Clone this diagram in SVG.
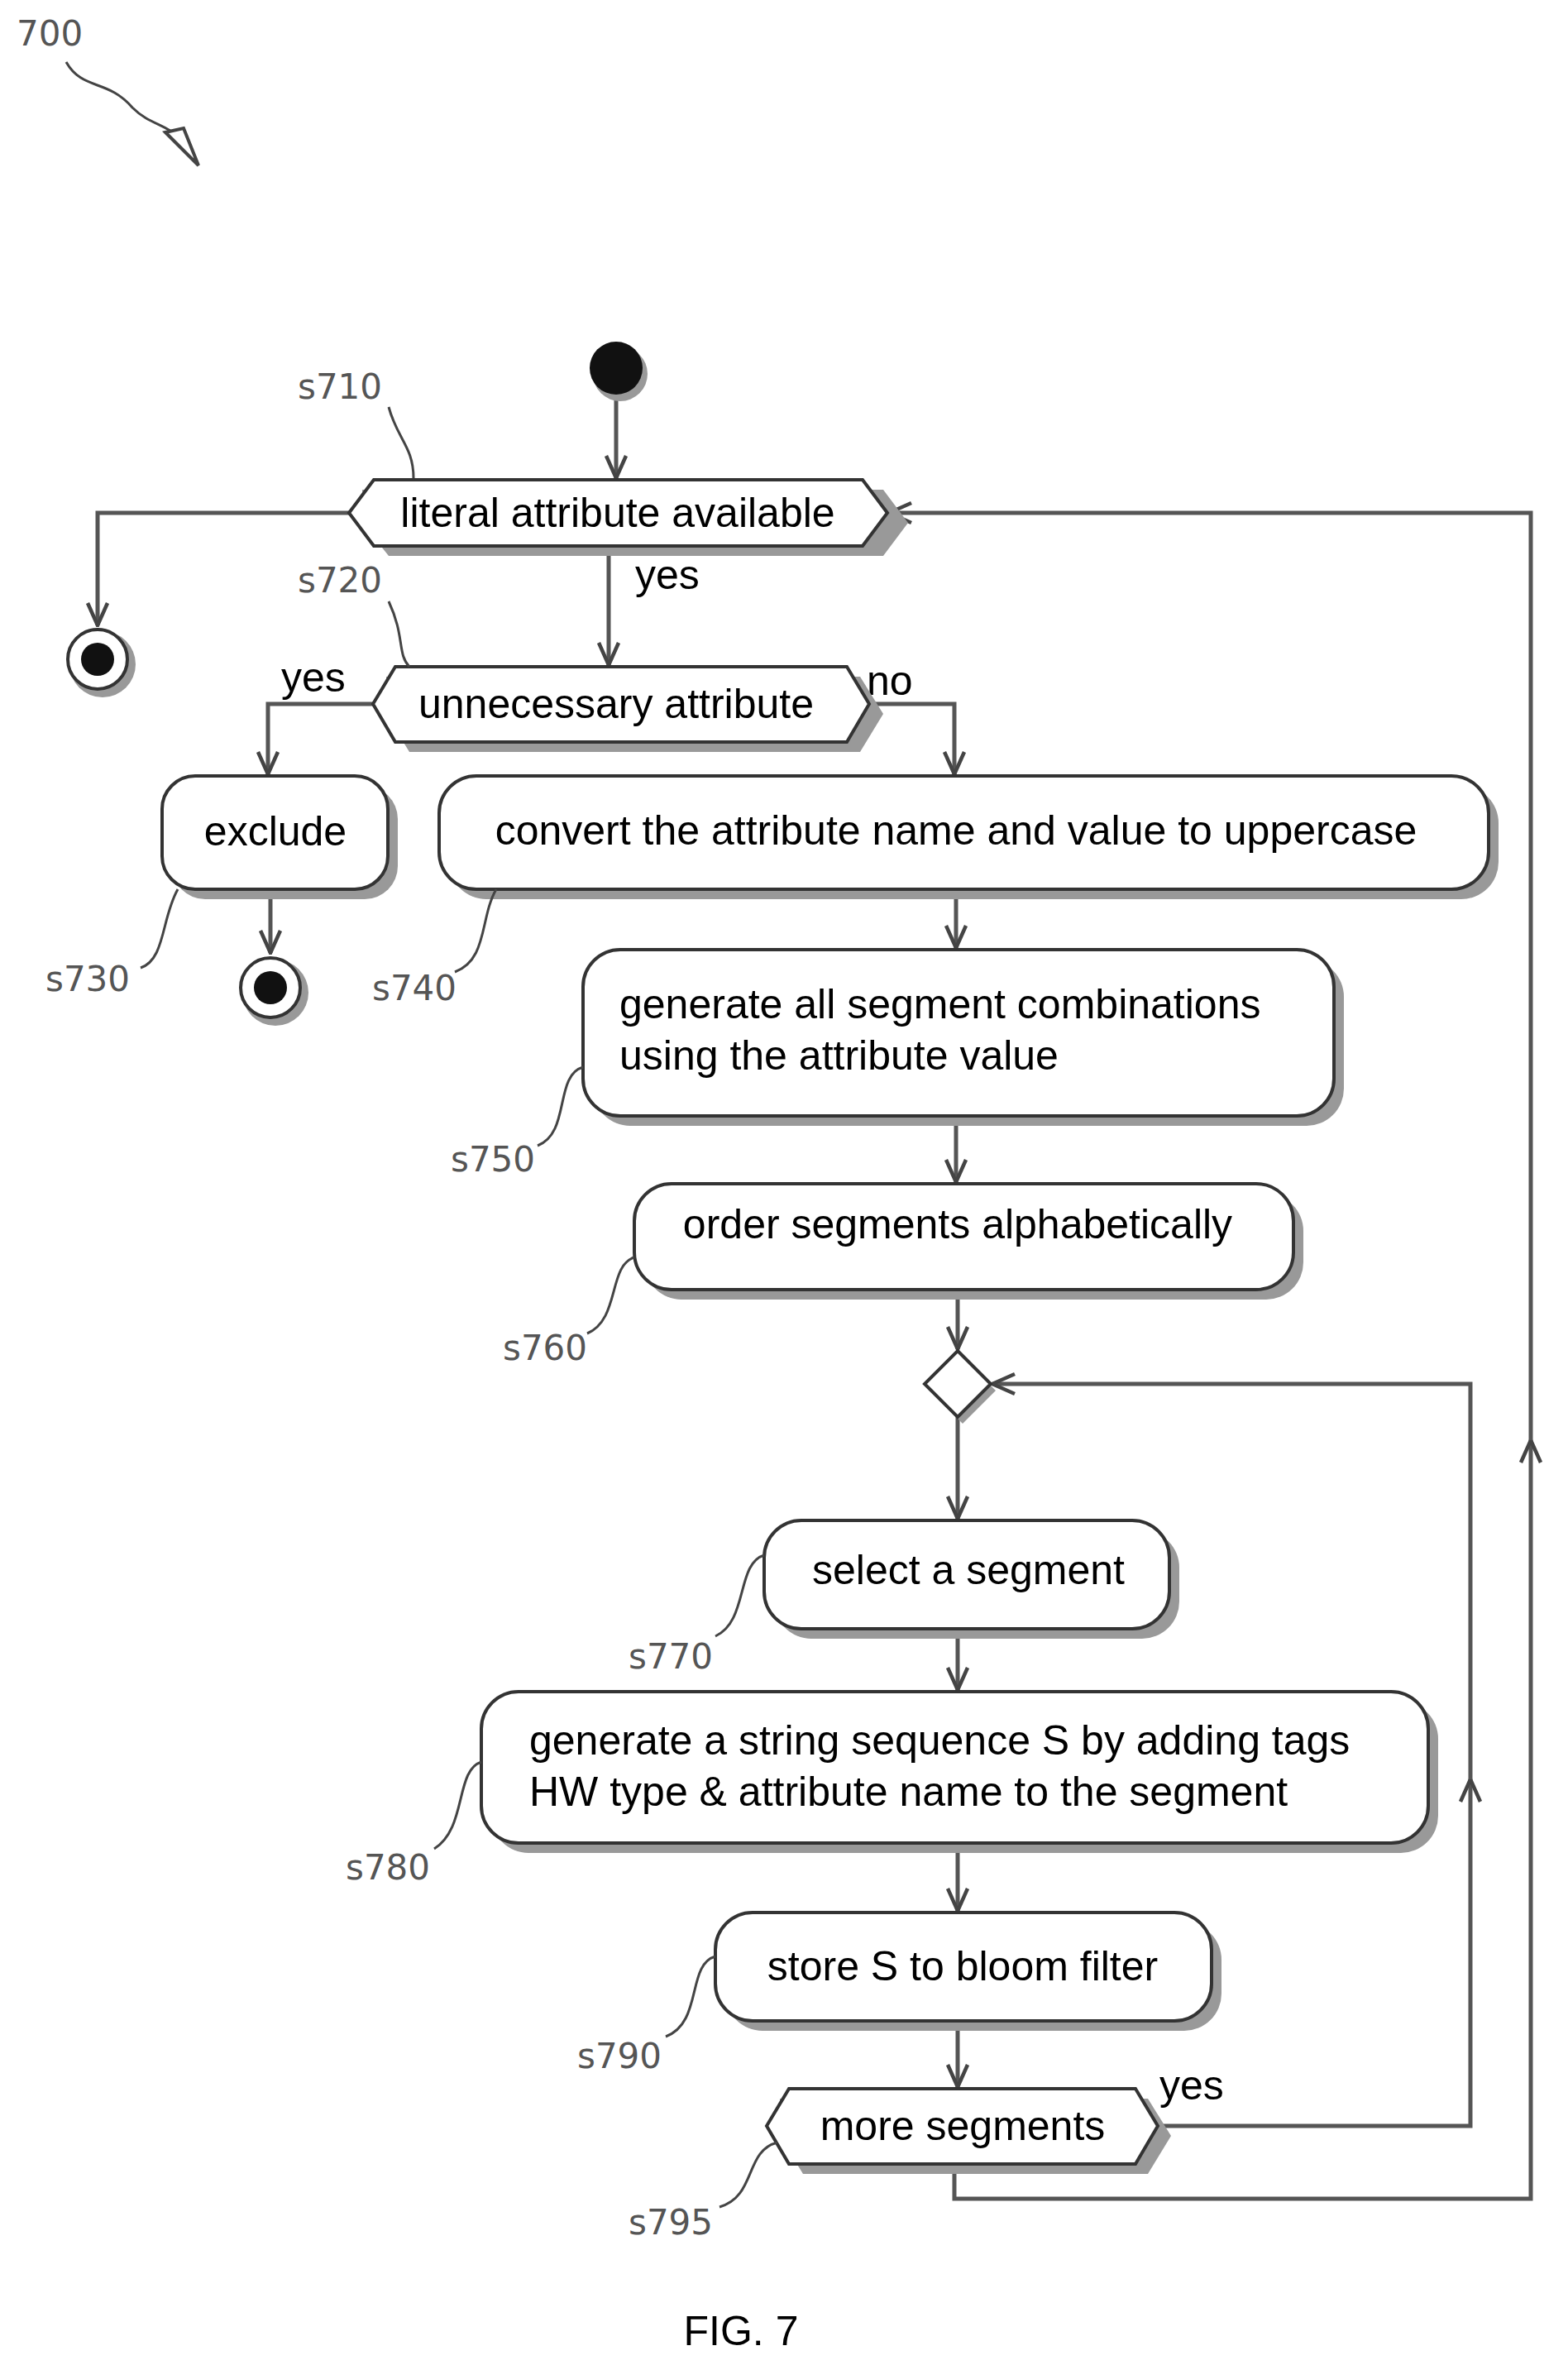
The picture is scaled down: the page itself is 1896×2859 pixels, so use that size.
<svg xmlns="http://www.w3.org/2000/svg" width="1896" height="2859" viewBox="0 0 1896 2859">
<style>
.t{font-family:"Liberation Sans",Arial,sans-serif;font-size:50px;fill:#000}
.l{font-family:"DejaVu Sans",sans-serif;font-size:42px;fill:#555}
.b{fill:#fff;stroke:#333;stroke-width:4}
.s{fill:#999}
.c{fill:none;stroke:#555;stroke-width:5}
.q{fill:none;stroke:#444;stroke-width:3}
</style>
<defs>
<marker id="a" viewBox="0 0 20 20" refX="19" refY="10" markerWidth="30" markerHeight="30" markerUnits="userSpaceOnUse" orient="auto">
<path d="M1,2 L19,10 L1,18" fill="none" stroke="#444" stroke-width="3"/>
</marker>
</defs>
<rect width="1896" height="2859" fill="#fff"/>
<g id="ref700">
<text x="20" y="55" class="l" font-size="44">700</text>
<path d="M80,75 C100,110 130,95 160,130 C180,150 200,150 215,165" class="q"/>
<path d="M200,160 L240,200 L222,155 Z" fill="#fff" stroke="#444" stroke-width="4"/>
</g>
<g id="connectors">
<path d="M745,480 V578" class="c" marker-end="url(#a)"/>
<path d="M422,620 H118 V756" class="c" marker-end="url(#a)"/>
<path d="M736,660 V804" class="c" marker-end="url(#a)"/>
<path d="M451,851 H324 V936" class="c" marker-end="url(#a)"/>
<path d="M1051,851 H1154 V936" class="c" marker-end="url(#a)"/>
<path d="M327,1075 V1152" class="c" marker-end="url(#a)"/>
<path d="M1156,1075 V1146" class="c" marker-end="url(#a)"/>
<path d="M1156,1349 V1429" class="c" marker-end="url(#a)"/>
<path d="M1158,1559 V1631" class="c" marker-end="url(#a)"/>
<path d="M1158,1713 V1836" class="c" marker-end="url(#a)"/>
<path d="M1158,1969 V2043" class="c" marker-end="url(#a)"/>
<path d="M1158,2228 V2310" class="c" marker-end="url(#a)"/>
<path d="M1158,2443 V2523" class="c" marker-end="url(#a)"/>
<path d="M1400,2570 H1778 V2151" class="c" marker-end="url(#a)"/>
<path d="M1778,2151 V1673 H1200" class="c" marker-end="url(#a)"/>
<path d="M1154,2616 V2658 H1851 V1741" class="c" marker-end="url(#a)"/>
<path d="M1851,1741 V620 H1075" class="c" marker-end="url(#a)"/>
<text x="768" y="712" class="t">yes</text>
<text x="340" y="836" class="t">yes</text>
<text x="1048" y="840" class="t">no</text>
<text x="1402" y="2538" class="t">yes</text>
</g>
<g id="start"><circle cx="750" cy="452" r="33" class="s"/><circle cx="745" cy="445" r="32" fill="#111"/></g>
<g id="s710">
<path d="M438,592 L470,592 L1068,592 L1098,632 L1068,672 L470,672 L438,632 Z" class="s"/>
<path d="M422,620 L452,580 L1043,580 L1073,620 L1043,660 L452,660 Z" class="b"/>
<text x="747" y="637" class="t" text-anchor="middle">literal attribute available</text>
<text x="360" y="482" class="l">s710</text><path d="M470,492 C480,530 500,540 500,578" class="q"/>
</g>
<g id="end1"><circle cx="124" cy="803" r="40" class="s"/><circle cx="118" cy="797" r="36" fill="#fff" stroke="#333" stroke-width="4"/><circle cx="118" cy="797" r="20" fill="#111"/></g>
<g id="s720">
<path d="M467,818 L495,818 L1040,818 L1068,863 L1040,909 L495,909 L467,863 Z" class="s"/>
<path d="M451,851 L478,806 L1024,806 L1051,851 L1024,897 L478,897 Z" class="b"/>
<text x="745" y="868" class="t" text-anchor="middle">unnecessary attribute</text>
<text x="360" y="716" class="l">s720</text><path d="M470,727 C490,770 480,790 495,806" class="q"/>
</g>
<g id="s730">
<rect x="208" y="950" width="273" height="137" rx="40" class="s"/>
<rect x="196" y="938" width="273" height="137" rx="40" class="b"/>
<text x="333" y="1022" class="t" text-anchor="middle">exclude</text>
<text x="55" y="1198" class="l">s730</text><path d="M215,1075 C195,1110 200,1160 170,1170" class="q"/>
</g>
<g id="end2"><circle cx="333" cy="1200" r="40" class="s"/><circle cx="327" cy="1194" r="36" fill="#fff" stroke="#333" stroke-width="4"/><circle cx="327" cy="1194" r="20" fill="#111"/></g>
<g id="s740">
<rect x="543" y="950" width="1269" height="137" rx="45" class="s"/>
<rect x="531" y="938" width="1269" height="137" rx="45" class="b"/>
<text x="1156" y="1021" class="t" text-anchor="middle">convert the attribute name and value to uppercase</text>
<text x="450" y="1209" class="l">s740</text><path d="M600,1075 C580,1110 590,1160 550,1175" class="q"/>
</g>
<g id="s750">
<rect x="717" y="1160" width="908" height="201" rx="45" class="s"/>
<rect x="705" y="1148" width="908" height="201" rx="45" class="b"/>
<text x="749" y="1231" class="t">generate all segment combinations</text>
<text x="749" y="1293" class="t">using the attribute value</text>
<text x="545" y="1416" class="l">s750</text><path d="M705,1290 C670,1300 690,1370 650,1385" class="q"/>
</g>
<g id="s760">
<rect x="779" y="1443" width="797" height="128" rx="45" class="s"/>
<rect x="767" y="1431" width="797" height="128" rx="45" class="b"/>
<text x="1158" y="1497" class="t" text-anchor="middle">order segments alphabetically</text>
<text x="608" y="1644" class="l">s760</text><path d="M767,1520 C735,1530 750,1595 710,1612" class="q"/>
</g>
<g id="merge">
<path d="M1164,1641 L1204,1681 L1164,1721 L1124,1681 Z" class="s"/>
<path d="M1158,1633 L1198,1673 L1158,1713 L1118,1673 Z" class="b"/>
</g>
<g id="s770">
<rect x="936" y="1850" width="490" height="131" rx="45" class="s"/>
<rect x="924" y="1838" width="490" height="131" rx="45" class="b"/>
<text x="1171" y="1915" class="t" text-anchor="middle">select a segment</text>
<text x="760" y="2017" class="l">s770</text><path d="M924,1880 C890,1890 905,1960 865,1978" class="q"/>
</g>
<g id="s780">
<rect x="594" y="2057" width="1145" height="183" rx="45" class="s"/>
<rect x="582" y="2045" width="1145" height="183" rx="45" class="b"/>
<text x="640" y="2121" class="t">generate a string sequence S by adding tags</text>
<text x="640" y="2183" class="t">HW type &amp; attribute name to the segment</text>
<text x="418" y="2272" class="l">s780</text><path d="M582,2130 C550,2140 565,2210 525,2235" class="q"/>
</g>
<g id="s790">
<rect x="877" y="2324" width="600" height="131" rx="45" class="s"/>
<rect x="865" y="2312" width="600" height="131" rx="45" class="b"/>
<text x="1164" y="2394" class="t" text-anchor="middle">store S to bloom filter</text>
<text x="698" y="2500" class="l">s790</text><path d="M865,2365 C830,2375 850,2445 805,2462" class="q"/>
</g>
<g id="s795">
<path d="M943,2537 L971,2537 L1388,2537 L1416,2582 L1388,2628 L971,2628 L943,2582 Z" class="s"/>
<path d="M927,2570 L954,2525 L1373,2525 L1400,2570 L1373,2616 L954,2616 Z" class="b"/>
<text x="1164" y="2587" class="t" text-anchor="middle">more segments</text>
<text x="760" y="2701" class="l">s795</text><path d="M940,2590 C900,2600 915,2655 870,2668" class="q"/>
</g>
<text x="896" y="2835" class="t" font-size="48" text-anchor="middle">FIG. 7</text>
</svg>
